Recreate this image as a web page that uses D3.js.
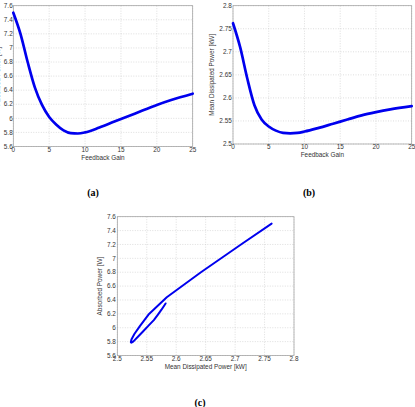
<!DOCTYPE html>
<html>
<head>
<meta charset="utf-8">
<script src="https://cdn.jsdelivr.net/npm/d3@7"></script>
<style>
  body { margin: 0; background: #fff; }
  svg { display: block; }
  .tick-label { font-family: "Liberation Sans", Arial, sans-serif; font-size: 6.4px; fill: #333; }
  .axis-title { font-family: "Liberation Sans", Arial, sans-serif; font-size: 6.4px; fill: #333; }
  .caption { font-family: "Liberation Serif", "Times New Roman", serif; font-size: 10px; font-weight: bold; fill: #000; }
</style>
</head>
<body>
<svg id="chart" width="415" height="407"></svg>
<script>
// values
const gain = [0, 1, 2, 3, 4, 5, 6, 7, 8, 9, 10, 12, 14, 16, 18, 20, 22, 25];
const absorbedPower = [7.50, 7.20, 6.80, 6.44, 6.19, 6.02, 5.91, 5.83, 5.79, 5.785, 5.80, 5.87, 5.95, 6.03, 6.11, 6.19, 6.26, 6.35];
const dissipatedPower = [2.762, 2.710, 2.642, 2.584, 2.553, 2.538, 2.529, 2.524, 2.523, 2.524, 2.527, 2.535, 2.544, 2.553, 2.562, 2.569, 2.575, 2.582];

const gainTicks = [0, 5, 10, 15, 20, 25];
const absorbedTicks = [5.6, 5.8, 6, 6.2, 6.4, 6.6, 6.8, 7, 7.2, 7.4, 7.6];
const dissipatedTicks = [2.5, 2.55, 2.6, 2.65, 2.7, 2.75, 2.8];

const fmt = (d) => String(+d.toFixed(2));

const svg = d3.select("#chart");

function drawPanel(svg, p) {
  const g = svg.append("g");
  const x = d3.scaleLinear().domain(d3.extent(p.xTicks)).range([p.left, p.right]);
  const y = d3.scaleLinear().domain(d3.extent(p.yTicks)).range([p.bottom, p.top]);

  // dotted grid
  g.selectAll(".vgrid")
    .data(p.xTicks)
    .join("line")
    .attr("x1", (d) => x(d)).attr("x2", (d) => x(d))
    .attr("y1", p.top).attr("y2", p.bottom)
    .attr("stroke", "#c8c8c8").attr("stroke-width", 0.6)
    .attr("stroke-dasharray", "1 1.5");
  g.selectAll(".hgrid")
    .data(p.yTicks)
    .join("line")
    .attr("x1", p.left).attr("x2", p.right)
    .attr("y1", (d) => y(d)).attr("y2", (d) => y(d))
    .attr("stroke", "#c8c8c8").attr("stroke-width", 0.6)
    .attr("stroke-dasharray", "1 1.5");

  // frame
  g.append("rect")
    .attr("x", p.left).attr("y", p.top)
    .attr("width", p.right - p.left).attr("height", p.bottom - p.top)
    .attr("fill", "none").attr("stroke", "#9a9a9a").attr("stroke-width", 0.7);

  // tick labels
  g.selectAll(".xlab")
    .data(p.xTicks)
    .join("text")
    .attr("class", "tick-label")
    .attr("x", (d) => x(d))
    .attr("y", p.bottom + 5.4)
    .attr("text-anchor", "middle")
    .text(fmt);
  g.selectAll(".ylab")
    .data(p.yTicks)
    .join("text")
    .attr("class", "tick-label")
    .attr("x", p.left - p.yLabGap)
    .attr("y", (d) => y(d) + 2.2)
    .attr("text-anchor", "end")
    .text(fmt);

  // titles
  g.append("text")
    .attr("class", "axis-title")
    .attr("x", (p.left + p.right) / 2)
    .attr("y", p.bottom + 13)
    .attr("text-anchor", "middle")
    .text(p.xTitle);
  g.append("text")
    .attr("class", "axis-title")
    .attr("transform", `translate(${p.yTitleX},${(p.top + p.bottom) / 2}) rotate(-90)`)
    .attr("text-anchor", "middle")
    .text(p.yTitle);

  // curve
  const pts = p.xs.map((v, i) => [v, p.ys[i]]);
  const line = d3.line()
    .x((d) => x(d[0]))
    .y((d) => y(d[1]))
    .curve(p.curve);
  g.append("path")
    .datum(pts)
    .attr("d", line)
    .attr("fill", "none")
    .attr("stroke", "#0000ee")
    .attr("stroke-width", p.strokeWidth)
    .attr("stroke-linejoin", "round")
    .attr("stroke-linecap", "round");

  g.append("text")
    .attr("class", "caption")
    .attr("x", p.capX).attr("y", p.capY)
    .attr("text-anchor", "middle")
    .text(p.caption);
}

drawPanel(svg, {
  left: 13.3, right: 192.7, top: 5.7, bottom: 146.5,
  xTicks: gainTicks, yTicks: absorbedTicks,
  xs: gain, ys: absorbedPower,
  xTitle: "Feedback Gain", yTitle: "Absorbed Power [W]", yTitleX: 0.3, yLabGap: 0.6,
  curve: d3.curveMonotoneX, strokeWidth: 2.7,
  caption: "(a)", capX: 93, capY: 196
});

drawPanel(svg, {
  left: 233, right: 411.7, top: 5.7, bottom: 144,
  xTicks: gainTicks, yTicks: dissipatedTicks,
  xs: gain, ys: dissipatedPower,
  xTitle: "Feedback Gain", yTitle: "Mean Dissipated Power [kW]", yTitleX: 213.5, yLabGap: 1.2,
  curve: d3.curveMonotoneX, strokeWidth: 2.7,
  caption: "(b)", capX: 309, capY: 196
});

drawPanel(svg, {
  left: 117.3, right: 294, top: 216.7, bottom: 355.5,
  xTicks: dissipatedTicks, yTicks: absorbedTicks,
  xs: dissipatedPower, ys: absorbedPower,
  xTitle: "Mean Dissipated Power [kW]", yTitle: "Absorbed Power [W]", yTitleX: 102, yLabGap: 1.5,
  curve: d3.curveLinear, strokeWidth: 2,
  caption: "(c)", capX: 200, capY: 406
});
</script>
</body>
</html>
